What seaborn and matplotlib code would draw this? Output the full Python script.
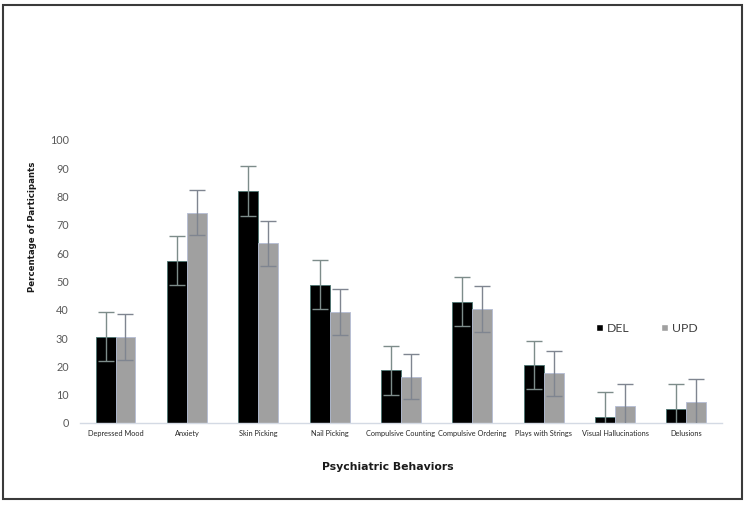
import matplotlib.pyplot as plt
import numpy as np
import pandas as pd
import seaborn as sns
from matplotlib.patches import Rectangle

sns.set_theme(style="white")
plt.rcParams["font.family"] = ["Lato", "DejaVu Sans"]

# Data
behaviors = ["Depressed Mood", "Anxiety", "Skin Picking", "Nail Picking",
             "Compulsive Counting", "Compulsive Ordering", "Plays with Strings",
             "Visual Hallucinations", "Delusions"]
groups = ["DEL", "UPD"]
del_values = [30.5, 57.4, 82.0, 48.9, 18.6, 42.9, 20.5, 2.0, 5.1]
upd_values = [30.3, 74.3, 63.5, 39.2, 16.3, 40.3, 17.6, 5.9, 7.5]
del_err = [8.7, 8.7, 8.7, 8.6, 8.7, 8.8, 8.6, 8.8, 8.7]
upd_err = [8.1, 8.0, 8.0, 8.0, 8.0, 8.0, 8.0, 8.0, 8.2]

df = pd.DataFrame({
    "behavior": behaviors * 2,
    "group": ["DEL"] * len(behaviors) + ["UPD"] * len(behaviors),
    "pct": del_values + upd_values,
})

fig = plt.figure(figsize=(7.46, 5.05), dpi=100)
ax = fig.add_axes([0.107, 0.1624, 0.861, 0.5604])

sns.barplot(data=df, x="behavior", y="pct", hue="group", order=behaviors,
            hue_order=groups, palette=["#000000", "#a0a0a0"], width=0.56,
            errorbar=None, saturation=1, ax=ax)

edge_cols = ["#4a7470", "#b4bcd4"]
err_cols = ["#7d8c8a", "#7f8590"]
for cont, vals, errs, ec, erc in zip(ax.containers, [del_values, upd_values],
                                     [del_err, upd_err], edge_cols, err_cols):
    xs = []
    for p in cont:
        p.set_edgecolor(ec)
        p.set_linewidth(0.6)
        xs.append(p.get_x() + p.get_width() / 2)
    ax.errorbar(xs, vals, yerr=errs, fmt="none", ecolor=erc, elinewidth=1.0,
                capsize=5.5, capthick=1.0, zorder=3)

ax.set_ylim(0, 100)
ax.set_xlim(-0.5, len(behaviors) - 0.5)
ax.set_yticks(np.arange(0, 101, 10))
ax.tick_params(axis="y", labelsize=7.8, labelcolor="#595959", length=0, pad=8)
ax.tick_params(axis="x", labelsize=5.3, labelcolor="#262626", length=0, pad=5)
ax.set_xlabel("")
ax.set_ylabel("")
for s in ["left", "top", "right"]:
    ax.spines[s].set_visible(False)
ax.spines["bottom"].set_color("#d4dae4")
ax.spines["bottom"].set_linewidth(1.0)

handles, labels = ax.get_legend_handles_labels()
ax.legend(handles, labels, ncol=2, frameon=False, loc="center",
          bbox_to_anchor=(0.867, 0.35), bbox_transform=fig.transFigure,
          handlelength=0.6, handleheight=0.6, handletextpad=0.3,
          columnspacing=2.6, fontsize=8.8, labelcolor="#404040")

fig.text(0.043, 1 - 227 / 505, "Percentage of Participants", rotation=90,
         ha="center", va="center", fontsize=6.2, fontweight="bold",
         family="DejaVu Sans", color="#1a1a1a")
fig.text(388 / 746, 1 - 466.5 / 505, "Psychiatric Behaviors", ha="center",
         va="center", fontsize=7.8, fontweight="bold", family="DejaVu Sans",
         color="#1a1a1a")

fig.patches.append(Rectangle((3.5 / 746, 1 - 498.5 / 505), 738 / 746, 494 / 505,
                             transform=fig.transFigure, fill=False,
                             edgecolor="#3a3a3a", linewidth=1.5))

fig.savefig("out.png", dpi=100)
